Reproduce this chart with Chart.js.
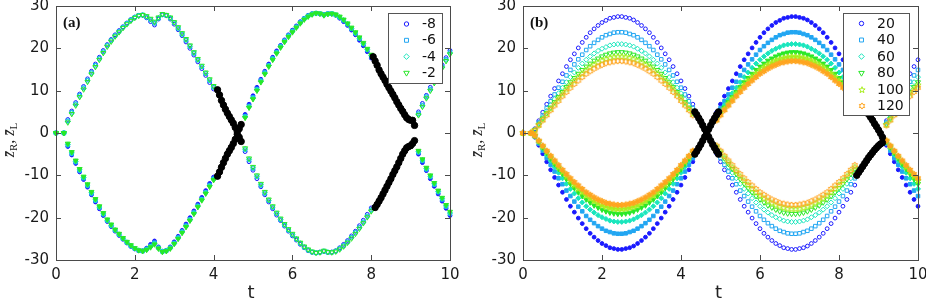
<!DOCTYPE html>
<html>
<head>
<meta charset="utf-8">
<title>zR, zL against t</title>
<script src="https://cdn.jsdelivr.net/npm/chart.js@4.4.1/dist/chart.umd.min.js"></script>
<style>
  html, body { margin: 0; padding: 0; background: #fff; }
  #wrap { position: relative; width: 926px; height: 300px; overflow: hidden; }
  canvas { position: absolute; top: 0; }
</style>
</head>
<body>
<div id="wrap">
  <canvas id="chartA" width="463" height="300" style="left:0"></canvas>
  <canvas id="chartB" width="463" height="300" style="left:463px"></canvas>
</div>
<script>
const _ = null;

// sample times shared by every series (a gap is a null value)
const times = [
  0, 0.1, 0.2, 0.3, 0.4, 0.5, 0.6, 0.7, 0.8, 0.9,
  1, 1.1, 1.2, 1.3, 1.4, 1.5, 1.6, 1.7, 1.8, 1.9,
  2, 2.1, 2.2, 2.3, 2.4, 2.5, 2.6, 2.7, 2.8, 2.9,
  3, 3.1, 3.2, 3.3, 3.4, 3.5, 3.6, 3.7, 3.8, 3.9,
  4, 4.1, 4.2, 4.3, 4.4, 4.5, 4.6, 4.7, 4.8, 4.9,
  5, 5.1, 5.2, 5.3, 5.4, 5.5, 5.6, 5.7, 5.8, 5.9,
  6, 6.1, 6.2, 6.3, 6.4, 6.5, 6.6, 6.7, 6.8, 6.9,
  7, 7.1, 7.2, 7.3, 7.4, 7.5, 7.6, 7.7, 7.8, 7.9,
  8, 8.1, 8.2, 8.3, 8.4, 8.5, 8.6, 8.7, 8.8, 8.9,
  9, 9.1, 9.2, 9.3, 9.4, 9.5, 9.6, 9.7, 9.8, 9.9,
  10
];
const xTicks = [0, 2, 4, 6, 8, 10];
const yTicks = [-30, -20, -10, 0, 10, 20, 30];
const labelsA = ['-8', '-6', '-4', '-2'];
const labelsB = ['20', '40', '60', '80', '100', '120'];

// ---- panel (a) ----
const aR8 = [
  0, _, 0, 3.2, 5.2, 7.2, 9.2, 11.0, 12.8, 14.6,
  16.3, 17.9, 19.5, 20.9, 22.1, 23.2, 24.2, 25.1, 26.0, 26.8,
  27.4, 27.8, 27.8, 27.2, 26.3, 25.5, 26.9, 27.9, 27.7, 26.9,
  25.7, 24.4, 23.0, 21.5, 20.0, 18.4, 16.8, 15.2, 13.6, 11.9,
  10.4, _, _, _, _, _, _, _, -4.4, -6.8,
  -8.8, -10.8, -12.7, -14.6, -16.3, -17.9, -19.4, -20.7, -22.0, -23.2,
  -24.3, -25.3, -26.3, -27.1, -27.8, -28.2, -28.3, -28.1, -28.0, -28.2,
  -28.1, -27.8, -27.1, -26.3, -25.4, -24.3, -23.2, -21.9, -20.6, -19.2,
  -17.7, _, _, _, _, _, _, _, _, _,
  _, _, 5.0, 7.0, 8.9, 10.8, 12.6, 14.4, 16.1, 17.8,
  19.5
];
const aL8 = [
  0, _, 0, -3.2, -5.2, -7.2, -9.2, -11.0, -12.8, -14.6,
  -16.3, -17.9, -19.5, -20.9, -22.1, -23.2, -24.2, -25.1, -26.0, -26.8,
  -27.4, -27.8, -27.8, -27.2, -26.3, -25.5, -26.9, -27.9, -27.7, -26.9,
  -25.7, -24.4, -23.0, -21.5, -20.0, -18.4, -16.8, -15.2, -13.6, -11.9,
  -10.4, _, _, _, _, _, _, _, 4.4, 6.8,
  8.8, 10.8, 12.7, 14.6, 16.3, 17.9, 19.4, 20.7, 22.0, 23.2,
  24.3, 25.3, 26.3, 27.1, 27.8, 28.2, 28.3, 28.1, 28.0, 28.2,
  28.1, 27.8, 27.1, 26.3, 25.4, 24.3, 23.2, 21.9, 20.6, 19.2,
  17.7, _, _, _, _, _, _, _, _, _,
  _, _, -5.0, -7.0, -8.9, -10.8, -12.6, -14.4, -16.1, -17.8,
  -19.5
];
const aR6 = [
  0, _, 0, 2.9, 4.9, 6.9, 8.9, 10.7, 12.5, 14.3,
  16.0, 17.6, 19.2, 20.7, 21.9, 23.0, 24.0, 25.0, 25.9, 26.7,
  27.3, 27.8, 27.9, 27.4, 26.7, 25.9, 27.1, 28.0, 27.8, 27.1,
  26.0, 24.7, 23.3, 21.9, 20.4, 18.8, 17.2, 15.6, 14.0, 12.3,
  10.8, _, _, _, _, _, _, _, -4.0, -6.4,
  -8.4, -10.4, -12.4, -14.3, -16.0, -17.6, -19.1, -20.5, -21.8, -23.0,
  -24.1, -25.1, -26.1, -27.0, -27.7, -28.1, -28.3, -28.2, -27.9, -28.2,
  -28.2, -27.9, -27.3, -26.6, -25.7, -24.6, -23.5, -22.3, -21.0, -19.6,
  -18.1, _, _, _, _, _, _, _, _, _,
  _, _, 4.6, 6.6, 8.6, 10.4, 12.2, 14.0, 15.7, 17.4,
  19.1
];
const aL6 = [
  0, _, 0, -2.9, -4.9, -6.9, -8.9, -10.7, -12.5, -14.3,
  -16.0, -17.6, -19.2, -20.7, -21.9, -23.0, -24.0, -25.0, -25.9, -26.7,
  -27.3, -27.8, -27.9, -27.4, -26.7, -25.9, -27.1, -28.0, -27.8, -27.1,
  -26.0, -24.7, -23.3, -21.9, -20.4, -18.8, -17.2, -15.6, -14.0, -12.3,
  -10.8, _, _, _, _, _, _, _, 4.0, 6.4,
  8.4, 10.4, 12.4, 14.3, 16.0, 17.6, 19.1, 20.5, 21.8, 23.0,
  24.1, 25.1, 26.1, 27.0, 27.7, 28.1, 28.3, 28.2, 27.9, 28.2,
  28.2, 27.9, 27.3, 26.6, 25.7, 24.6, 23.5, 22.3, 21.0, 19.6,
  18.1, _, _, _, _, _, _, _, _, _,
  _, _, -4.6, -6.6, -8.6, -10.4, -12.2, -14.0, -15.7, -17.4,
  -19.1
];
const aR4 = [
  0, _, 0, 2.7, 4.7, 6.7, 8.7, 10.5, 12.3, 14.1,
  15.8, 17.5, 19.1, 20.6, 21.8, 22.9, 23.9, 24.9, 25.8, 26.6,
  27.3, 27.7, 27.9, 27.5, 26.8, 26.1, 27.2, 28.0, 27.8, 27.2,
  26.1, 24.8, 23.4, 22.0, 20.5, 18.9, 17.3, 15.7, 14.1, 12.5,
  10.9, _, _, _, _, _, _, _, -3.8, -6.2,
  -8.2, -10.2, -12.2, -14.1, -15.9, -17.5, -19.0, -20.4, -21.7, -22.9,
  -24.0, -25.0, -26.0, -26.9, -27.6, -28.1, -28.3, -28.2, -27.9, -28.1,
  -28.2, -27.9, -27.4, -26.7, -25.8, -24.7, -23.6, -22.4, -21.1, -19.7,
  -18.3, _, _, _, _, _, _, _, _, _,
  _, _, 4.4, 6.4, 8.4, 10.2, 12.0, 13.8, 15.5, 17.2,
  18.9
];
const aL4 = [
  0, _, 0, -2.7, -4.7, -6.7, -8.7, -10.5, -12.3, -14.1,
  -15.8, -17.5, -19.1, -20.6, -21.8, -22.9, -23.9, -24.9, -25.8, -26.6,
  -27.3, -27.7, -27.9, -27.5, -26.8, -26.1, -27.2, -28.0, -27.8, -27.2,
  -26.1, -24.8, -23.4, -22.0, -20.5, -18.9, -17.3, -15.7, -14.1, -12.5,
  -10.9, _, _, _, _, _, _, _, 3.8, 6.2,
  8.2, 10.2, 12.2, 14.1, 15.9, 17.5, 19.0, 20.4, 21.7, 22.9,
  24.0, 25.0, 26.0, 26.9, 27.6, 28.1, 28.3, 28.2, 27.9, 28.1,
  28.2, 27.9, 27.4, 26.7, 25.8, 24.7, 23.6, 22.4, 21.1, 19.7,
  18.3, _, _, _, _, _, _, _, _, _,
  _, _, -4.4, -6.4, -8.4, -10.2, -12.0, -13.8, -15.5, -17.2,
  -18.9
];
const aR2 = [
  0, _, 0, 2.5, 4.5, 6.5, 8.5, 10.3, 12.1, 13.9,
  15.6, 17.3, 18.9, 20.4, 21.6, 22.8, 23.8, 24.8, 25.7, 26.5,
  27.2, 27.7, 27.9, 27.6, 27.0, 26.3, 27.3, 28.1, 27.9, 27.3,
  26.2, 25.0, 23.6, 22.2, 20.7, 19.1, 17.5, 15.9, 14.3, 12.7,
  11.1, _, _, _, _, _, _, _, -3.6, -6.0,
  -8.0, -10.0, -12.0, -13.9, -15.7, -17.3, -18.8, -20.2, -21.5, -22.7,
  -23.8, -24.9, -25.9, -26.8, -27.5, -28.0, -28.3, -28.2, -27.8, -28.1,
  -28.2, -28.0, -27.5, -26.8, -25.9, -24.9, -23.8, -22.6, -21.3, -19.9,
  -18.5, _, _, _, _, _, _, _, _, _,
  _, _, 4.2, 6.2, 8.2, 10.0, 11.8, 13.6, 15.3, 17.0,
  18.6
];
const aL2 = [
  0, _, 0, -2.5, -4.5, -6.5, -8.5, -10.3, -12.1, -13.9,
  -15.6, -17.3, -18.9, -20.4, -21.6, -22.8, -23.8, -24.8, -25.7, -26.5,
  -27.2, -27.7, -27.9, -27.6, -27.0, -26.3, -27.3, -28.1, -27.9, -27.3,
  -26.2, -25.0, -23.6, -22.2, -20.7, -19.1, -17.5, -15.9, -14.3, -12.7,
  -11.1, _, _, _, _, _, _, _, 3.6, 6.0,
  8.0, 10.0, 12.0, 13.9, 15.7, 17.3, 18.8, 20.2, 21.5, 22.7,
  23.8, 24.9, 25.9, 26.8, 27.5, 28.0, 28.3, 28.2, 27.8, 28.1,
  28.2, 28.0, 27.5, 26.8, 25.9, 24.9, 23.8, 22.6, 21.3, 19.9,
  18.5, _, _, _, _, _, _, _, _, _,
  _, _, -4.2, -6.2, -8.2, -10.0, -11.8, -13.6, -15.3, -17.0,
  -18.6
];
// black points where the two branches meet
const blackAt = [
  4.1, 4.15, 4.2, 4.25, 4.3, 4.35, 4.4, 4.45, 4.5, 4.55, 4.6, 4.65, 4.7,
  4.1, 4.15, 4.2, 4.25, 4.3, 4.35, 4.4, 4.45, 4.5, 4.55, 4.6, 4.65, 4.7,
  8.05, 8.1, 8.15, 8.2, 8.25, 8.3, 8.35, 8.4, 8.45, 8.5, 8.55, 8.6, 8.65, 8.7, 8.75, 8.8, 8.85, 8.9, 8.95, 9.0, 9.05, 9.1,
  8.1, 8.15, 8.2, 8.25, 8.3, 8.35, 8.4, 8.45, 8.5, 8.55, 8.6, 8.65, 8.7, 8.75, 8.8, 8.85, 8.9, 8.95, 9.0, 9.05, 9.1
];
const blackAz = [
  10.2, 9.0, 7.7, 6.6, 5.6, 4.7, 3.9, 3.1, 2.3, 1.3, 0.3, -1.0, -2.0,
  -10.2, -9.2, -8.1, -7.0, -6.0, -5.0, -4.2, -3.4, -2.5, -1.5, -0.3, 1.0, 2.0,
  18.0, 17.0, 16.0, 14.9, 14.0, 13.2, 12.4, 11.5, 10.7, 9.9, 9.1, 8.3, 7.4, 6.6, 5.8, 5.1, 4.3, 3.6, 3.2, 3.0, 3.0, 1.8,
  -17.6, -16.9, -16.1, -15.3, -14.4, -13.5, -12.6, -11.7, -10.8, -9.8, -8.9, -8.0, -7.0, -6.0, -5.0, -4.2, -3.5, -3.2, -3.0, -2.5, -1.8
];

// ---- panel (b) ----
const bR20 = [
  0, _, 0, 1.0, 2.9, 4.9, 6.8, 8.7, 10.5, 12.3,
  14.0, 15.7, 17.3, 18.7, 20.1, 21.4, 22.6, 23.7, 24.6, 25.4,
  26.1, 26.6, 27.1, 27.3, 27.5, 27.5, 27.3, 27.1, 26.7, 26.1,
  25.4, 24.6, 23.7, 22.6, 21.4, 20.1, 18.7, 17.3, 15.7, 14.0,
  12.3, 10.5, 8.7, 6.8, _, _, _, _, _, -4.9,
  -6.8, -8.7, -10.5, -12.3, -14.0, -15.7, -17.3, -18.7, -20.1, -21.4,
  -22.6, -23.7, -24.6, -25.4, -26.1, -26.6, -27.1, -27.3, -27.5, -27.5,
  -27.3, -27.1, -26.7, -26.1, -25.4, -24.6, -23.7, -22.6, -21.4, -20.1,
  -18.7, -17.3, -15.7, -14.0, -12.3, _, _, _, _, _,
  _, _, 2.9, 4.9, 6.8, 8.7, 10.5, 12.3, 14.0, 15.7,
  17.3
];
const bL20 = [
  0, _, 0, -1.0, -2.9, -4.9, -6.8, -8.7, -10.5, -12.3,
  -14.0, -15.7, -17.3, -18.7, -20.1, -21.4, -22.6, -23.7, -24.6, -25.4,
  -26.1, -26.6, -27.1, -27.3, -27.5, -27.5, -27.3, -27.1, -26.7, -26.1,
  -25.4, -24.6, -23.7, -22.6, -21.4, -20.1, -18.7, -17.3, -15.7, -14.0,
  -12.3, -10.5, -8.7, -6.8, _, _, _, _, _, 4.9,
  6.8, 8.7, 10.5, 12.3, 14.0, 15.7, 17.3, 18.7, 20.1, 21.4,
  22.6, 23.7, 24.6, 25.4, 26.1, 26.6, 27.1, 27.3, 27.5, 27.5,
  27.3, 27.1, 26.7, 26.1, 25.4, 24.6, 23.7, 22.6, 21.4, 20.1,
  18.7, 17.3, 15.7, 14.0, 12.3, _, _, _, _, _,
  _, _, -2.9, -4.9, -6.8, -8.7, -10.5, -12.3, -14.0, -15.7,
  -17.3
];
const bR40 = [
  0, _, 0, 0.8, 2.5, 4.2, 5.9, 7.5, 9.1, 10.7,
  12.1, 13.6, 14.9, 16.2, 17.4, 18.5, 19.6, 20.5, 21.3, 22.0,
  22.6, 23.1, 23.4, 23.7, 23.8, 23.8, 23.7, 23.4, 23.1, 22.6,
  22.0, 21.3, 20.5, 19.6, 18.5, 17.4, 16.2, 14.9, 13.6, 12.1,
  10.7, 9.1, 7.5, 5.9, _, _, _, _, _, -4.2,
  -5.9, -7.5, -9.1, -10.7, -12.1, -13.6, -14.9, -16.2, -17.4, -18.5,
  -19.6, -20.5, -21.3, -22.0, -22.6, -23.1, -23.4, -23.7, -23.8, -23.8,
  -23.7, -23.4, -23.1, -22.6, -22.0, -21.3, -20.5, -19.6, -18.5, -17.4,
  -16.2, -14.9, -13.6, -12.1, -10.7, _, _, _, _, _,
  _, _, 2.5, 4.2, 5.9, 7.5, 9.1, 10.7, 12.1, 13.6,
  14.9
];
const bL40 = [
  0, _, 0, -0.8, -2.5, -4.2, -5.9, -7.5, -9.1, -10.7,
  -12.1, -13.6, -14.9, -16.2, -17.4, -18.5, -19.6, -20.5, -21.3, -22.0,
  -22.6, -23.1, -23.4, -23.7, -23.8, -23.8, -23.7, -23.4, -23.1, -22.6,
  -22.0, -21.3, -20.5, -19.6, -18.5, -17.4, -16.2, -14.9, -13.6, -12.1,
  -10.7, -9.1, -7.5, -5.9, _, _, _, _, _, 4.2,
  5.9, 7.5, 9.1, 10.7, 12.1, 13.6, 14.9, 16.2, 17.4, 18.5,
  19.6, 20.5, 21.3, 22.0, 22.6, 23.1, 23.4, 23.7, 23.8, 23.8,
  23.7, 23.4, 23.1, 22.6, 22.0, 21.3, 20.5, 19.6, 18.5, 17.4,
  16.2, 14.9, 13.6, 12.1, 10.7, _, _, _, _, _,
  _, _, -2.5, -4.2, -5.9, -7.5, -9.1, -10.7, -12.1, -13.6,
  -14.9
];
const bR60 = [
  0, _, 0, 0.7, 2.2, 3.7, 5.2, 6.6, 8.0, 9.4,
  10.7, 12.0, 13.2, 14.3, 15.4, 16.4, 17.3, 18.1, 18.8, 19.4,
  19.9, 20.3, 20.7, 20.9, 21.0, 21.0, 20.9, 20.7, 20.4, 19.9,
  19.4, 18.8, 18.1, 17.3, 16.4, 15.4, 14.3, 13.2, 12.0, 10.7,
  9.4, 8.0, 6.6, 5.2, _, _, _, _, _, -3.7,
  -5.2, -6.6, -8.0, -9.4, -10.7, -12.0, -13.2, -14.3, -15.4, -16.4,
  -17.3, -18.1, -18.8, -19.4, -19.9, -20.3, -20.7, -20.9, -21.0, -21.0,
  -20.9, -20.7, -20.4, -19.9, -19.4, -18.8, -18.1, -17.3, -16.4, -15.4,
  -14.3, -13.2, -12.0, -10.7, -9.4, _, _, _, _, _,
  _, _, 2.2, 3.7, 5.2, 6.6, 8.0, 9.4, 10.7, 12.0,
  13.2
];
const bL60 = [
  0, _, 0, -0.7, -2.2, -3.7, -5.2, -6.6, -8.0, -9.4,
  -10.7, -12.0, -13.2, -14.3, -15.4, -16.4, -17.3, -18.1, -18.8, -19.4,
  -19.9, -20.3, -20.7, -20.9, -21.0, -21.0, -20.9, -20.7, -20.4, -19.9,
  -19.4, -18.8, -18.1, -17.3, -16.4, -15.4, -14.3, -13.2, -12.0, -10.7,
  -9.4, -8.0, -6.6, -5.2, _, _, _, _, _, 3.7,
  5.2, 6.6, 8.0, 9.4, 10.7, 12.0, 13.2, 14.3, 15.4, 16.4,
  17.3, 18.1, 18.8, 19.4, 19.9, 20.3, 20.7, 20.9, 21.0, 21.0,
  20.9, 20.7, 20.4, 19.9, 19.4, 18.8, 18.1, 17.3, 16.4, 15.4,
  14.3, 13.2, 12.0, 10.7, 9.4, _, _, _, _, _,
  _, _, -2.2, -3.7, -5.2, -6.6, -8.0, -9.4, -10.7, -12.0,
  -13.2
];
const bR80 = [
  0, _, 0, 0.7, 2.0, 3.4, 4.7, 6.0, 7.3, 8.5,
  9.7, 10.9, 12.0, 13.0, 14.0, 14.9, 15.7, 16.4, 17.1, 17.6,
  18.1, 18.5, 18.8, 19.0, 19.1, 19.1, 19.0, 18.8, 18.5, 18.1,
  17.6, 17.1, 16.4, 15.7, 14.9, 14.0, 13.0, 12.0, 10.9, 9.7,
  8.6, 7.3, 6.0, 4.7, _, _, _, _, _, -3.4,
  -4.7, -6.0, -7.3, -8.5, -9.7, -10.9, -12.0, -13.0, -14.0, -14.9,
  -15.7, -16.4, -17.1, -17.6, -18.1, -18.5, -18.8, -19.0, -19.1, -19.1,
  -19.0, -18.8, -18.5, -18.1, -17.6, -17.1, -16.4, -15.7, -14.9, -14.0,
  -13.0, -12.0, -10.9, -9.7, -8.6, _, _, _, _, _,
  _, _, 2.0, 3.4, 4.7, 6.0, 7.3, 8.5, 9.7, 10.9,
  12.0
];
const bL80 = [
  0, _, 0, -0.7, -2.0, -3.4, -4.7, -6.0, -7.3, -8.5,
  -9.7, -10.9, -12.0, -13.0, -14.0, -14.9, -15.7, -16.4, -17.1, -17.6,
  -18.1, -18.5, -18.8, -19.0, -19.1, -19.1, -19.0, -18.8, -18.5, -18.1,
  -17.6, -17.1, -16.4, -15.7, -14.9, -14.0, -13.0, -12.0, -10.9, -9.7,
  -8.6, -7.3, -6.0, -4.7, _, _, _, _, _, 3.4,
  4.7, 6.0, 7.3, 8.5, 9.7, 10.9, 12.0, 13.0, 14.0, 14.9,
  15.7, 16.4, 17.1, 17.6, 18.1, 18.5, 18.8, 19.0, 19.1, 19.1,
  19.0, 18.8, 18.5, 18.1, 17.6, 17.1, 16.4, 15.7, 14.9, 14.0,
  13.0, 12.0, 10.9, 9.7, 8.6, _, _, _, _, _,
  _, _, -2.0, -3.4, -4.7, -6.0, -7.3, -8.5, -9.7, -10.9,
  -12.0
];
const bR100 = [
  0, _, 0, 0.6, 1.9, 3.2, 4.5, 5.7, 6.9, 8.1,
  9.2, 10.3, 11.3, 12.3, 13.2, 14.0, 14.8, 15.5, 16.1, 16.6,
  17.1, 17.4, 17.7, 17.9, 18.0, 18.0, 17.9, 17.7, 17.4, 17.1,
  16.6, 16.1, 15.5, 14.8, 14.0, 13.2, 12.3, 11.3, 10.3, 9.2,
  8.1, 6.9, 5.7, 4.5, _, _, _, _, _, -3.2,
  -4.5, -5.7, -6.9, -8.1, -9.2, -10.3, -11.3, -12.3, -13.2, -14.0,
  -14.8, -15.5, -16.1, -16.6, -17.1, -17.4, -17.7, -17.9, -18.0, -18.0,
  -17.9, -17.7, -17.4, -17.1, -16.6, -16.1, -15.5, -14.8, -14.0, -13.2,
  -12.3, -11.3, -10.3, -9.2, -8.1, _, _, _, _, _,
  _, _, 1.9, 3.2, 4.5, 5.7, 6.9, 8.1, 9.2, 10.3,
  11.3
];
const bL100 = [
  0, _, 0, -0.6, -1.9, -3.2, -4.5, -5.7, -6.9, -8.1,
  -9.2, -10.3, -11.3, -12.3, -13.2, -14.0, -14.8, -15.5, -16.1, -16.6,
  -17.1, -17.4, -17.7, -17.9, -18.0, -18.0, -17.9, -17.7, -17.4, -17.1,
  -16.6, -16.1, -15.5, -14.8, -14.0, -13.2, -12.3, -11.3, -10.3, -9.2,
  -8.1, -6.9, -5.7, -4.5, _, _, _, _, _, 3.2,
  4.5, 5.7, 6.9, 8.1, 9.2, 10.3, 11.3, 12.3, 13.2, 14.0,
  14.8, 15.5, 16.1, 16.6, 17.1, 17.4, 17.7, 17.9, 18.0, 18.0,
  17.9, 17.7, 17.4, 17.1, 16.6, 16.1, 15.5, 14.8, 14.0, 13.2,
  12.3, 11.3, 10.3, 9.2, 8.1, _, _, _, _, _,
  _, _, -1.9, -3.2, -4.5, -5.7, -6.9, -8.1, -9.2, -10.3,
  -11.3
];
const bR120 = [
  0, _, 0, 0.6, 1.8, 3.0, 4.2, 5.4, 6.5, 7.6,
  8.7, 9.7, 10.7, 11.6, 12.4, 13.2, 14.0, 14.6, 15.2, 15.7,
  16.1, 16.5, 16.7, 16.9, 17.0, 17.0, 16.9, 16.7, 16.5, 16.1,
  15.7, 15.2, 14.6, 14.0, 13.2, 12.4, 11.6, 10.7, 9.7, 8.7,
  7.6, 6.5, 5.4, 4.2, _, _, _, _, _, -3.0,
  -4.2, -5.4, -6.5, -7.6, -8.7, -9.7, -10.7, -11.6, -12.4, -13.2,
  -14.0, -14.6, -15.2, -15.7, -16.1, -16.5, -16.7, -16.9, -17.0, -17.0,
  -16.9, -16.7, -16.5, -16.1, -15.7, -15.2, -14.6, -14.0, -13.2, -12.4,
  -11.6, -10.7, -9.7, -8.7, -7.6, _, _, _, _, _,
  _, _, 1.8, 3.0, 4.2, 5.4, 6.5, 7.6, 8.7, 9.7,
  10.7
];
const bL120 = [
  0, _, 0, -0.6, -1.8, -3.0, -4.2, -5.4, -6.5, -7.6,
  -8.7, -9.7, -10.7, -11.6, -12.4, -13.2, -14.0, -14.6, -15.2, -15.7,
  -16.1, -16.5, -16.7, -16.9, -17.0, -17.0, -16.9, -16.7, -16.5, -16.1,
  -15.7, -15.2, -14.6, -14.0, -13.2, -12.4, -11.6, -10.7, -9.7, -8.7,
  -7.6, -6.5, -5.4, -4.2, _, _, _, _, _, 3.0,
  4.2, 5.4, 6.5, 7.6, 8.7, 9.7, 10.7, 11.6, 12.4, 13.2,
  14.0, 14.6, 15.2, 15.7, 16.1, 16.5, 16.7, 16.9, 17.0, 17.0,
  16.9, 16.7, 16.5, 16.1, 15.7, 15.2, 14.6, 14.0, 13.2, 12.4,
  11.6, 10.7, 9.7, 8.7, 7.6, _, _, _, _, _,
  _, _, -1.8, -3.0, -4.2, -5.4, -6.5, -7.6, -8.7, -9.7,
  -10.7
];
const blackBt = [
  4.35, 4.4, 4.45, 4.5, 4.55, 4.6, 4.65, 4.7, 4.75, 4.8, 4.85, 4.9, 4.95,
  4.35, 4.4, 4.45, 4.5, 4.55, 4.6, 4.65, 4.7, 4.75, 4.8, 4.85, 4.9, 4.95,
  8.5, 8.55, 8.6, 8.65, 8.7, 8.75, 8.8, 8.85, 8.9, 8.95, 9.0, 9.05, 9.1,
  8.45, 8.5, 8.55, 8.6, 8.65, 8.7, 8.75, 8.8, 8.85, 8.9, 8.95, 9.0, 9.05, 9.1
];
const blackBz = [
  5.0, 4.3, 3.5, 2.7, 1.8, 0.9, 0.0, -0.9, -1.8, -2.7, -3.5, -4.3, -5.0,
  -5.0, -4.3, -3.5, -2.7, -1.8, -0.9, 0.0, 0.9, 1.8, 2.7, 3.5, 4.3, 5.0,
  8.0, 7.2, 6.5, 5.8, 5.1, 4.4, 3.7, 3.0, 2.2, 1.5, 0.7, -0.1, -1.0,
  -10.0, -9.3, -8.6, -7.9, -7.2, -6.5, -5.8, -5.2, -4.6, -4.0, -3.5, -3.0, -2.6, -2.3
];

// marker look per series
const cBlue = '#1a1aff', cSky = '#22a6f2', cAqua = '#1ae6bd', cGreen = '#28e828',
      cLime = '#a8ee1e', cOrange = '#ffa41e';
const mCircle = { shape: 'circle', r: 1.9 };
const mSquare = { shape: 'rect', r: 2.5 };
const mDiamond = { shape: 'rectRot', r: 2.5 };
const mTriDown = { shape: 'triangle', r: 2.9, rot: 180 };
const mStar = { shape: 'star5', r: 3.3 };
const mHex = { shape: 'star6', r: 3.1 };

function starImage(color, filled, spikes, outer) {
  const inner = spikes === 5 ? outer * 0.42 : outer * 0.58;
  const size = Math.ceil(outer * 2) + 3;
  const c = document.createElement('canvas');
  c.width = size; c.height = size;
  const g = c.getContext('2d');
  const m = size / 2;
  g.beginPath();
  for (let k = 0; k < spikes * 2; k++) {
    const r = k % 2 ? inner : outer;
    const ang = -Math.PI / 2 + k * Math.PI / spikes;
    const px = m + r * Math.cos(ang), py = m + r * Math.sin(ang);
    if (k === 0) g.moveTo(px, py); else g.lineTo(px, py);
  }
  g.closePath();
  if (filled) { g.fillStyle = color; g.fill(); }
  g.strokeStyle = color; g.lineWidth = 1; g.stroke();
  return c;
}

function styleFor(spec, color, filled) {
  if (spec.shape === 'star5') return starImage(color, filled, 5, spec.r);
  if (spec.shape === 'star6') return starImage(color, filled, 6, spec.r);
  return spec.shape;
}

function makeSet(vals, color, spec, filled, order) {
  const data = [];
  times.forEach((t, i) => {
    if (vals[i] !== null && vals[i] !== undefined) data.push({ x: t, y: vals[i] });
  });
  return {
    data, order, clip: false, showLine: false,
    pointStyle: styleFor(spec, color, filled),
    pointRadius: spec.r, pointHoverRadius: spec.r,
    pointRotation: spec.rot || 0,
    pointBorderWidth: 1,
    pointBorderColor: color,
    pointBackgroundColor: filled ? color : 'rgba(0,0,0,0)'
  };
}

function blackSet(ts, zs) {
  return {
    data: ts.map((t, i) => ({ x: t, y: zs[i] })),
    order: 0, clip: false, showLine: false,
    pointStyle: 'circle', pointRadius: 3.2, pointHoverRadius: 3.2,
    pointBorderWidth: 1, pointBorderColor: '#000', pointBackgroundColor: '#000'
  };
}

// legend marker (hollow, same as zR)
function drawMarker(ctx, spec, color, x, y) {
  ctx.save();
  ctx.strokeStyle = color; ctx.lineWidth = 1;
  if (spec.shape === 'star5' || spec.shape === 'star6') {
    const img = styleFor(spec, color, false);
    ctx.drawImage(img, Math.round(x - img.width / 2), Math.round(y - img.height / 2));
  } else {
    const r = spec.r + 0.3;
    ctx.beginPath();
    if (spec.shape === 'circle') {
      ctx.arc(x, y, r, 0, Math.PI * 2);
    } else if (spec.shape === 'rect') {
      const h = r * Math.SQRT1_2;
      ctx.rect(x - h, y - h, 2 * h, 2 * h);
    } else if (spec.shape === 'rectRot') {
      ctx.moveTo(x, y - r); ctx.lineTo(x + r, y); ctx.lineTo(x, y + r); ctx.lineTo(x - r, y);
      ctx.closePath();
    } else {
      let rad = Math.PI;
      ctx.moveTo(x + Math.sin(rad) * r, y - Math.cos(rad) * r);
      rad += Math.PI * 2 / 3;
      ctx.lineTo(x + Math.sin(rad) * r, y - Math.cos(rad) * r);
      rad += Math.PI * 2 / 3;
      ctx.lineTo(x + Math.sin(rad) * r, y - Math.cos(rad) * r);
      ctx.closePath();
    }
    ctx.stroke();
  }
  ctx.restore();
}

function drawYTitle(ctx, x, yc) {
  const parts = [
    ['z\u0304', 'italic 16px "Liberation Serif"', 0],
    ['R', '11px "Liberation Serif"', 3],
    [', ', '16px "Liberation Serif"', 0],
    ['z\u0304', 'italic 16px "Liberation Serif"', 0],
    ['L', '11px "Liberation Serif"', 3]
  ];
  ctx.save();
  ctx.translate(x, yc);
  ctx.rotate(-Math.PI / 2);
  let w = 0;
  parts.forEach(p => { ctx.font = p[1]; w += ctx.measureText(p[0]).width; });
  let cx = -w / 2;
  ctx.fillStyle = '#222';
  ctx.textAlign = 'left';
  ctx.textBaseline = 'alphabetic';
  parts.forEach(p => {
    ctx.font = p[1];
    ctx.fillText(p[0], cx, p[2]);
    cx += ctx.measureText(p[0]).width;
  });
  ctx.restore();
}

// frame, inner ticks, legend and texts
function panelPlugin(cfg) {
  return {
    id: 'panelDeco',
    afterDatasetsDraw(chart) {
      const ctx = chart.ctx, a = chart.chartArea;
      const xs = chart.scales.x, ys = chart.scales.y;
      ctx.save();
      ctx.strokeStyle = '#4a4a4a';
      ctx.lineWidth = 1;
      ctx.beginPath();
      xTicks.forEach(v => {
        const px = Math.round(xs.getPixelForValue(v)) + 0.5;
        ctx.moveTo(px, a.bottom); ctx.lineTo(px, a.bottom - 5);
        ctx.moveTo(px, a.top); ctx.lineTo(px, a.top + 5);
      });
      yTicks.forEach(v => {
        const py = Math.round(ys.getPixelForValue(v)) + 0.5;
        ctx.moveTo(a.left, py); ctx.lineTo(a.left + 5, py);
        ctx.moveTo(a.right, py); ctx.lineTo(a.right - 5, py);
      });
      ctx.stroke();
      ctx.strokeRect(Math.round(a.left) + 0.5, Math.round(a.top) + 0.5,
        Math.round(a.right - a.left), Math.round(a.bottom - a.top));

      // legend box
      const b = cfg.box;
      ctx.fillStyle = '#fff';
      ctx.fillRect(b.x, b.y, b.w, b.h);
      ctx.strokeStyle = '#555';
      ctx.strokeRect(b.x + 0.5, b.y + 0.5, b.w, b.h);
      ctx.font = '14px "DejaVu Sans"';
      ctx.textAlign = 'left';
      ctx.textBaseline = 'middle';
      cfg.series.forEach((s, i) => {
        const y = cfg.rowY + i * cfg.rowDy;
        drawMarker(ctx, s.spec, s.color, cfg.markX, y);
        ctx.fillStyle = '#111';
        ctx.fillText(s.label, cfg.textX, y + 0.5);
      });

      // panel tag
      ctx.fillStyle = '#111';
      ctx.font = 'bold 15px "Liberation Serif"';
      ctx.textBaseline = 'alphabetic';
      ctx.fillText(cfg.tag, a.left + 7, 27);

      // axis titles
      ctx.font = '18px "DejaVu Sans"';
      ctx.textAlign = 'center';
      ctx.fillStyle = '#222';
      ctx.fillText('t', (a.left + a.right) / 2 - 2, 298);
      drawYTitle(ctx, cfg.yTitleX, 140);
      ctx.restore();
    }
  };
}

function makeChart(id, series, black, cfg) {
  const n = series.length;
  const datasets = [];
  series.forEach((s, i) => {
    datasets.push(makeSet(s.zR, s.color, s.spec, false, n - i));
    datasets.push(makeSet(s.zL, s.color, s.spec, true, n - i));
  });
  datasets.push(black);
  const tickFont = { family: '"DejaVu Sans"', size: 15 };
  return new Chart(document.getElementById(id), {
    type: 'scatter',
    data: { datasets },
    options: {
      responsive: false,
      animation: false,
      events: [],
      layout: { padding: { left: 0, right: cfg.padRight, top: 6, bottom: 0 } },
      plugins: { legend: { display: false }, tooltip: { enabled: false } },
      scales: {
        x: {
          type: 'linear', min: 0, max: 10,
          afterBuildTicks: s => { s.ticks = xTicks.map(v => ({ value: v })); },
          ticks: { autoSkip: false, maxRotation: 0, padding: 6, color: '#1a1a1a', font: tickFont },
          grid: { display: false, drawTicks: false },
          border: { display: false },
          afterFit: s => { s.height = 40; s.paddingLeft = 0; s.paddingRight = 0; }
        },
        y: {
          type: 'linear', min: -30, max: 30,
          afterBuildTicks: s => { s.ticks = yTicks.map(v => ({ value: v })); },
          ticks: { autoSkip: false, padding: 7, color: '#1a1a1a', font: tickFont },
          grid: { display: false, drawTicks: false },
          border: { display: false },
          afterFit: s => { s.width = cfg.yWidth; s.paddingTop = 0; s.paddingBottom = 0; }
        }
      }
    },
    plugins: [panelPlugin(cfg)]
  });
}

const seriesA = [
  { label: labelsA[0], zR: aR8, zL: aL8, color: cBlue, spec: mCircle },
  { label: labelsA[1], zR: aR6, zL: aL6, color: cSky, spec: mSquare },
  { label: labelsA[2], zR: aR4, zL: aL4, color: cAqua, spec: mDiamond },
  { label: labelsA[3], zR: aR2, zL: aL2, color: cGreen, spec: mTriDown }
];
const seriesB = [
  { label: labelsB[0], zR: bR20, zL: bL20, color: cBlue, spec: mCircle },
  { label: labelsB[1], zR: bR40, zL: bL40, color: cSky, spec: mSquare },
  { label: labelsB[2], zR: bR60, zL: bL60, color: cAqua, spec: mDiamond },
  { label: labelsB[3], zR: bR80, zL: bL80, color: cGreen, spec: mTriDown },
  { label: labelsB[4], zR: bR100, zL: bL100, color: cLime, spec: mStar },
  { label: labelsB[5], zR: bR120, zL: bL120, color: cOrange, spec: mHex }
];

makeChart('chartA', seriesA, blackSet(blackAt, blackAz), {
  series: seriesA, padRight: 13, yWidth: 56, tag: '(a)', yTitleX: 14,
  box: { x: 388, y: 13, w: 54, h: 70 }, rowY: 24, rowDy: 16.3, markX: 406.5, textX: 422
});
makeChart('chartB', seriesB, blackSet(blackBt, blackBz), {
  series: seriesB, padRight: 8, yWidth: 60, tag: '(b)', yTitleX: 19,
  box: { x: 380, y: 13, w: 66, h: 102 }, rowY: 23.5, rowDy: 16.5, markX: 398.5, textX: 414
});
</script>
</body>
</html>
